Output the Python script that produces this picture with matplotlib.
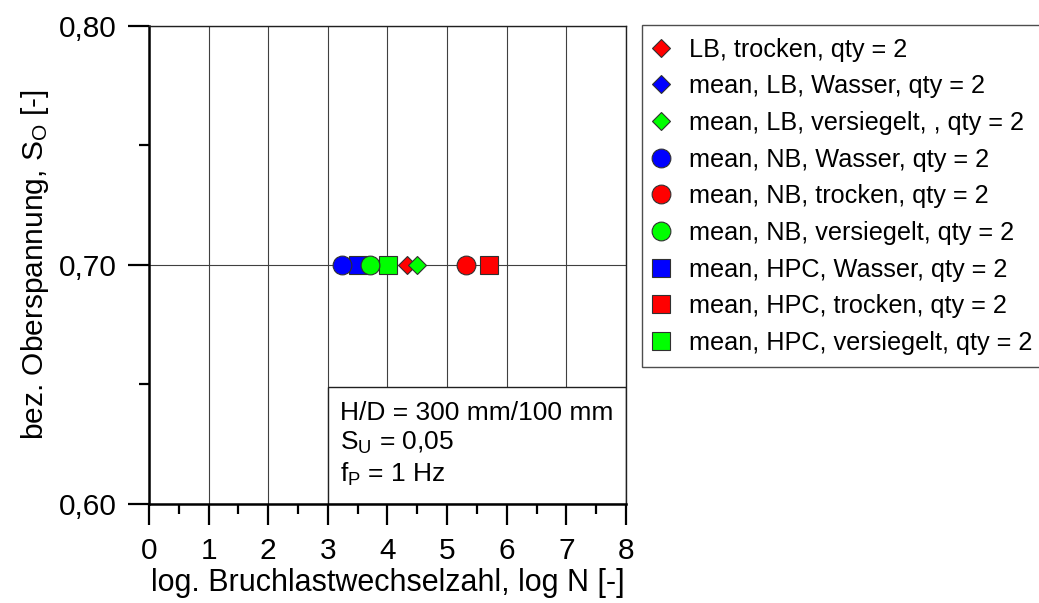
import matplotlib
matplotlib.use("Agg")
import matplotlib.pyplot as plt
from matplotlib.patches import Rectangle
from matplotlib.ticker import MultipleLocator, FuncFormatter

plt.rcParams['font.family'] = ['Liberation Sans', 'DejaVu Sans']
plt.rcParams['mathtext.fontset'] = 'custom'
plt.rcParams['mathtext.rm'] = 'Liberation Sans'
plt.rcParams['mathtext.it'] = 'Liberation Sans'

# data
labels = ["LB, trocken, qty = 2", "mean, LB, Wasser, qty = 2", "mean, LB, versiegelt, , qty = 2",
          "mean, NB, Wasser, qty = 2", "mean, NB, trocken, qty = 2", "mean, NB, versiegelt, qty = 2",
          "mean, HPC, Wasser, qty = 2", "mean, HPC, trocken, qty = 2", "mean, HPC, versiegelt, qty = 2"]
log_n = [4.32, 3.45, 4.49, 3.24, 5.32, 3.70, 3.50, 5.70, 4.01]
s_o = [0.70, 0.70, 0.70, 0.70, 0.70, 0.70, 0.70, 0.70, 0.70]

# styles
red, blue, green = '#ff0000', '#0000ff', '#00ff00'
colors = [red, blue, green, blue, red, green, blue, red, green]
markers = ['D'] * 3 + ['o'] * 3 + ['s'] * 3
msizes = [9.3] * 3 + [13.5] * 3 + [13.5] * 3
zorders = [4, 2.5, 5, 4, 4, 4, 3, 3, 3]

fig = plt.figure(figsize=(10.39, 6.03), dpi=100)
ax = fig.add_axes([0.1434, 0.1642, 0.4591, 0.7927])

for i in range(len(labels)):
    ax.plot([log_n[i]], [s_o[i]], linestyle='none', marker=markers[i], ms=msizes[i],
            mfc=colors[i], mec='#303030', mew=0.8, label=labels[i], zorder=zorders[i])

ax.set_xlim(0, 8)
ax.set_ylim(0.60, 0.80)
ax.xaxis.set_major_locator(MultipleLocator(1))
ax.xaxis.set_minor_locator(MultipleLocator(0.5))
ax.yaxis.set_major_locator(MultipleLocator(0.1))
ax.yaxis.set_minor_locator(MultipleLocator(0.05))
ax.yaxis.set_major_formatter(FuncFormatter(lambda v, p: f"{v:.2f}".replace('.', ',')))

ax.grid(True, which='major', color='#404040', lw=0.8, zorder=1)
ax.set_axisbelow(True)

ax.tick_params(which='major', direction='out', length=15, width=1.6, labelsize=21.5, pad=8)
ax.tick_params(which='minor', direction='out', length=7.5, width=1.6)
ax.tick_params(axis='x', which='major', pad=9)

for s in ['left', 'bottom']:
    ax.spines[s].set_linewidth(1.8)
for s in ['top', 'right']:
    ax.spines[s].set_linewidth(1.0)
    ax.spines[s].set_color('#202020')

ax.set_xlabel('log. Bruchlastwechselzahl, log N [-]', fontsize=22, labelpad=2)
ax.set_ylabel(r'bez. Oberspannung, S$_\mathregular{O}$ [-]', fontsize=21.5)
ax.yaxis.set_label_coords(-0.205, 0.5)

# info box
box = Rectangle((3.0, 0.60), 5.0, 0.049, facecolor='white', edgecolor='#202020', lw=1.0, zorder=2)
ax.add_patch(box)
ax.text(3.2, 0.6351, 'H/D = 300 mm/100 mm', fontsize=19, va='baseline', zorder=6)
ax.text(3.2, 0.6226, r'S$_\mathregular{U}$ = 0,05', fontsize=19, va='baseline', zorder=6)
ax.text(3.2, 0.6093, r'f$_\mathregular{P}$ = 1 Hz', fontsize=19, va='baseline', zorder=6)

leg = ax.legend(loc='upper left', bbox_to_anchor=(1.034, 1.002), fontsize=18.2, frameon=True,
                fancybox=False, edgecolor='#202020', borderpad=0.5, labelspacing=0.5,
                handletextpad=0.86, handlelength=0.5, borderaxespad=0.0, numpoints=1)
leg.get_frame().set_linewidth(1.0)

fig.savefig('out.png', dpi=100)
